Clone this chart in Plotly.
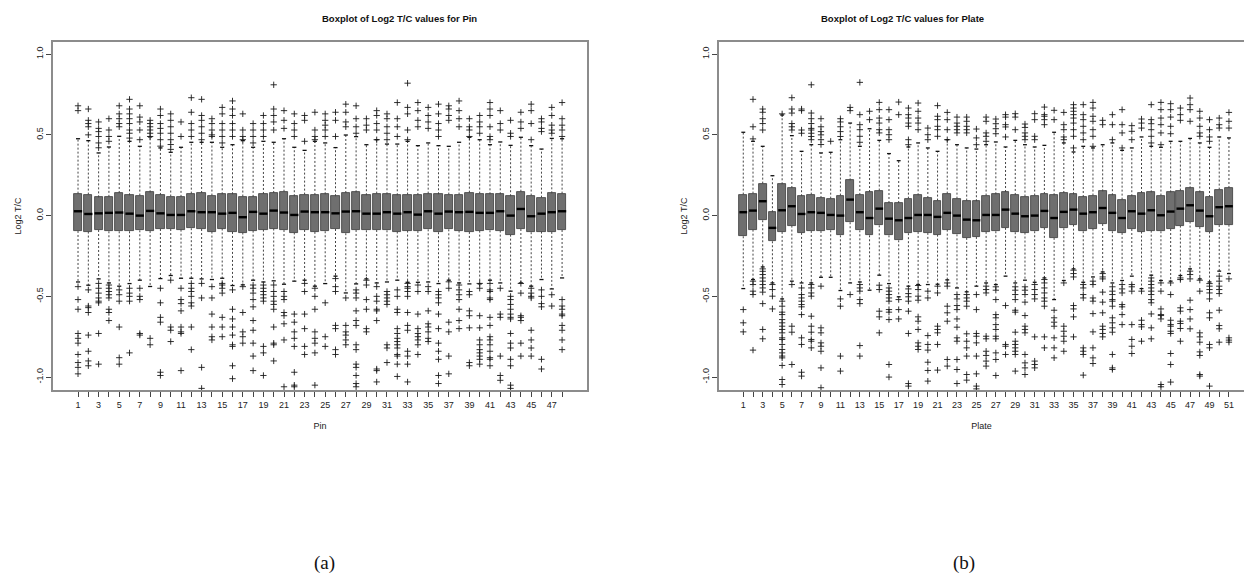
import plotly.graph_objects as go

# ---------------- data: Pin (48 boxes) ----------------
pin_ids = list(range(1, 49))
pin_q3 = [0.136, 0.130, 0.113, 0.116, 0.140, 0.126, 0.124, 0.144, 0.128, 0.118,
          0.116, 0.136, 0.140, 0.124, 0.132, 0.132, 0.118, 0.116, 0.134, 0.140,
          0.148, 0.120, 0.130, 0.128, 0.132, 0.120, 0.140, 0.144, 0.126, 0.136,
          0.132, 0.126, 0.130, 0.128, 0.136, 0.132, 0.130, 0.130, 0.142, 0.136,
          0.132, 0.132, 0.120, 0.148, 0.124, 0.111, 0.138, 0.136]
pin_q1 = [-0.095, -0.099, -0.089, -0.097, -0.097, -0.097, -0.091, -0.095, -0.083, -0.083,
          -0.087, -0.078, -0.083, -0.099, -0.080, -0.101, -0.105, -0.093, -0.087, -0.080,
          -0.089, -0.105, -0.089, -0.101, -0.097, -0.083, -0.109, -0.089, -0.091, -0.089,
          -0.091, -0.099, -0.093, -0.095, -0.085, -0.103, -0.085, -0.093, -0.101, -0.093,
          -0.091, -0.093, -0.118, -0.083, -0.103, -0.099, -0.101, -0.089]
pin_med = [0.027, 0.010, 0.014, 0.017, 0.019, 0.012, 0.000, 0.029, 0.014, 0.004,
           0.004, 0.027, 0.021, 0.021, 0.012, 0.017, -0.010, 0.023, 0.012, 0.031,
           0.019, 0.004, 0.025, 0.021, 0.021, 0.014, 0.025, 0.027, 0.012, 0.012,
           0.021, 0.012, 0.021, 0.006, 0.027, 0.012, 0.025, 0.021, 0.023, 0.017,
           0.017, 0.027, 0.000, 0.041, -0.004, 0.012, 0.021, 0.027]
pin_hi = [0.476, 0.464, 0.388, 0.425, 0.491, 0.460, 0.429, 0.487, 0.419, 0.392,
          0.423, 0.454, 0.454, 0.454, 0.423, 0.439, 0.464, 0.423, 0.460, 0.454,
          0.476, 0.423, 0.404, 0.460, 0.450, 0.421, 0.499, 0.489, 0.439, 0.470,
          0.443, 0.443, 0.460, 0.433, 0.450, 0.433, 0.429, 0.454, 0.485, 0.470,
          0.439, 0.456, 0.435, 0.485, 0.433, 0.412, 0.478, 0.476]
pin_lo = [-0.411, -0.431, -0.392, -0.417, -0.437, -0.421, -0.400, -0.439, -0.390, -0.371,
          -0.388, -0.388, -0.392, -0.396, -0.388, -0.433, -0.429, -0.400, -0.411, -0.404,
          -0.425, -0.406, -0.400, -0.437, -0.421, -0.375, -0.479, -0.423, -0.392, -0.417,
          -0.411, -0.400, -0.413, -0.413, -0.411, -0.421, -0.400, -0.417, -0.423, -0.423,
          -0.400, -0.417, -0.468, -0.417, -0.437, -0.396, -0.454, -0.386]
pin_out_hi = [
    [0.68, 0.65], [0.66, 0.59, 0.57, 0.55, 0.50], [0.58, 0.54, 0.52, 0.49, 0.45, 0.42],
    [0.60, 0.53, 0.49, 0.46], [0.68, 0.63, 0.60, 0.57, 0.55],
    [0.72, 0.66, 0.63, 0.60, 0.57, 0.53, 0.51, 0.48], [0.68, 0.61, 0.58, 0.53, 0.47],
    [0.59, 0.57, 0.55, 0.53, 0.51, 0.49], [0.66, 0.62, 0.57, 0.54, 0.51, 0.47, 0.43],
    [0.63, 0.59, 0.55, 0.51, 0.47, 0.44, 0.41], [0.58, 0.49], [0.73, 0.64, 0.57, 0.53, 0.49],
    [0.72, 0.62, 0.59, 0.55, 0.51, 0.47], [0.60, 0.57, 0.53, 0.50, 0.49],
    [0.67, 0.63, 0.57, 0.53, 0.49, 0.45], [0.71, 0.66, 0.62, 0.57, 0.53, 0.49],
    [0.63, 0.53, 0.49, 0.47], [0.57, 0.53, 0.49, 0.45], [0.62, 0.57, 0.53, 0.49],
    [0.81, 0.66, 0.62, 0.58, 0.53], [0.65, 0.59, 0.54], [0.63, 0.57, 0.53, 0.49],
    [0.62, 0.59, 0.46], [0.64, 0.53, 0.49, 0.47], [0.63, 0.59, 0.56, 0.53, 0.49],
    [0.64, 0.59, 0.49], [0.69, 0.64, 0.58, 0.55], [0.68, 0.60, 0.55, 0.51],
    [0.60, 0.56, 0.53], [0.65, 0.62, 0.57, 0.53, 0.47], [0.63, 0.60, 0.55, 0.51, 0.47],
    [0.70, 0.60, 0.55, 0.49], [0.82, 0.67, 0.63, 0.53, 0.47], [0.70, 0.65, 0.59, 0.55],
    [0.67, 0.62, 0.58, 0.54], [0.69, 0.63, 0.57, 0.53, 0.49], [0.68, 0.66, 0.62, 0.59],
    [0.71, 0.65, 0.60, 0.55], [0.60, 0.55, 0.53, 0.49], [0.62, 0.58, 0.55, 0.51],
    [0.70, 0.66, 0.62, 0.55, 0.49, 0.47], [0.65, 0.57, 0.53], [0.59, 0.51, 0.49],
    [0.64, 0.58, 0.54], [0.69, 0.65, 0.57, 0.47], [0.60, 0.58, 0.54, 0.52],
    [0.67, 0.62, 0.56, 0.53, 0.51], [0.70, 0.60, 0.56, 0.53, 0.49]]
pin_out_lo = [
    [-0.44, -0.52, -0.58, -0.73, -0.76, -0.79, -0.86, -0.91, -0.94, -0.98],
    [-0.46, -0.56, -0.57, -0.60, -0.74, -0.84, -0.90, -0.93],
    [-0.42, -0.45, -0.48, -0.51, -0.53, -0.54, -0.73, -0.92],
    [-0.43, -0.45, -0.47, -0.49, -0.51, -0.58, -0.60, -0.65],
    [-0.46, -0.49, -0.53, -0.69, -0.88, -0.92],
    [-0.45, -0.48, -0.50, -0.53, -0.85],
    [-0.45, -0.50, -0.52, -0.73, -0.74],
    [-0.76, -0.80],
    [-0.45, -0.54, -0.63, -0.66, -0.97, -0.99],
    [-0.40, -0.69, -0.71, -0.78],
    [-0.45, -0.52, -0.545, -0.59, -0.69, -0.72, -0.73, -0.96],
    [-0.42, -0.45, -0.47, -0.50, -0.54, -0.56, -0.69, -0.83],
    [-0.42, -0.51, -0.94, -1.07],
    [-0.44, -0.51, -0.61, -0.69, -0.75, -0.77],
    [-0.42, -0.43, -0.45, -0.48, -0.63, -0.69, -0.75],
    [-0.46, -0.58, -0.64, -0.69, -0.74, -0.80, -0.81, -0.93, -1.01],
    [-0.44, -0.60, -0.72, -0.75, -0.79],
    [-0.43, -0.45, -0.48, -0.52, -0.565, -0.65, -0.71, -0.79, -0.87, -0.96],
    [-0.43, -0.45, -0.47, -0.49, -0.51, -0.53, -0.81, -0.85, -0.99],
    [-0.43, -0.47, -0.50, -0.53, -0.55, -0.58, -0.69, -0.79, -0.80, -0.90],
    [-0.47, -0.50, -0.52, -0.60, -0.62, -0.67, -0.77, -1.06],
    [-0.61, -0.66, -0.72, -0.76, -0.81, -0.97, -1.05, -1.06],
    [-0.42, -0.47, -0.61, -0.70, -0.81, -0.86],
    [-0.45, -0.50, -0.58, -0.72, -0.76, -0.79, -0.85, -1.05],
    [-0.54, -0.75, -0.81],
    [-0.39, -0.44, -0.47, -0.68, -0.70, -0.83, -0.86],
    [-0.51, -0.68, -0.72, -0.74, -0.77, -0.80],
    [-0.46, -0.48, -0.51, -0.59, -0.65, -0.68, -0.80, -0.83, -0.92, -0.94, -0.99, -1.04, -1.06],
    [-0.40, -0.43, -0.52, -0.58, -0.70, -0.72],
    [-0.44, -0.50, -0.53, -0.58, -0.59, -0.65, -0.95, -0.96, -1.03],
    [-0.47, -0.49, -0.51, -0.53, -0.55, -0.80, -0.82, -0.91],
    [-0.46, -0.50, -0.58, -0.60, -0.70, -0.73, -0.76, -0.78, -0.80, -0.82, -0.86, -0.87, -0.92, -0.996],
    [-0.42, -0.44, -0.45, -0.47, -0.50, -0.60, -0.68, -0.71, -0.84, -0.87, -0.92, -1.03],
    [-0.43, -0.47, -0.61, -0.70, -0.73, -0.75, -0.77, -0.80, -0.86],
    [-0.44, -0.47, -0.59, -0.67, -0.69, -0.72, -0.76, -0.78],
    [-0.47, -0.49, -0.51, -0.54, -0.61, -0.70, -0.79, -0.84, -0.89, -0.99, -1.04],
    [-0.41, -0.45, -0.66, -0.72, -0.87, -0.98],
    [-0.43, -0.46, -0.49, -0.52, -0.58, -0.65, -0.70],
    [-0.47, -0.49, -0.59, -0.62, -0.695, -0.91, -0.93],
    [-0.42, -0.45, -0.62, -0.695, -0.77, -0.80, -0.83, -0.85, -0.87, -0.89, -0.92],
    [-0.42, -0.46, -0.47, -0.51, -0.52, -0.63, -0.68, -0.75, -0.77, -0.80, -0.84, -0.88, -0.89, -0.93],
    [-0.45, -0.61, -0.63, -0.87, -0.99, -1.02],
    [-0.50, -0.52, -0.55, -0.58, -0.61, -0.63, -0.64, -0.73, -0.79, -0.82, -0.89, -0.93, -1.05, -1.07],
    [-0.42, -0.48, -0.62, -0.63, -0.65, -0.79, -0.87],
    [-0.45, -0.48, -0.50, -0.51, -0.71, -0.77, -0.82, -0.87],
    [-0.46, -0.50, -0.545, -0.565, -0.89, -0.95],
    [-0.49, -0.56],
    [-0.52, -0.56, -0.58, -0.61, -0.62, -0.68, -0.71, -0.77, -0.83]]

# ---------------- data: Plate (51 boxes) ----------------
plate_ids = list(range(1, 52))
plate_q3 = [0.130, 0.136, 0.198, 0.021, 0.194, 0.171, 0.120, 0.130, 0.109, 0.105,
            0.124, 0.218, 0.128, 0.146, 0.155, 0.078, 0.078, 0.105, 0.126, 0.109,
            0.093, 0.136, 0.105, 0.093, 0.089, 0.124, 0.132, 0.146, 0.128, 0.118,
            0.124, 0.134, 0.126, 0.140, 0.132, 0.115, 0.124, 0.150, 0.126, 0.099,
            0.120, 0.140, 0.144, 0.124, 0.144, 0.155, 0.169, 0.144, 0.115, 0.161, 0.171]
plate_q1 = [-0.128, -0.087, -0.029, -0.159, -0.101, -0.062, -0.107, -0.095, -0.095, -0.091,
            -0.122, -0.041, -0.091, -0.122, -0.060, -0.122, -0.153, -0.109, -0.101, -0.107,
            -0.118, -0.087, -0.116, -0.138, -0.132, -0.101, -0.097, -0.076, -0.103, -0.105,
            -0.097, -0.076, -0.138, -0.078, -0.056, -0.097, -0.080, -0.052, -0.097, -0.107,
            -0.083, -0.099, -0.093, -0.097, -0.083, -0.062, -0.037, -0.070, -0.099, -0.058, -0.056]
plate_med = [0.021, 0.031, 0.089, -0.076, 0.033, 0.058, 0.010, 0.021, 0.017, 0.004,
             0.000, 0.099, 0.021, -0.015, 0.043, -0.019, -0.029, -0.015, 0.004, 0.004,
             -0.008, 0.017, 0.000, -0.025, -0.029, 0.004, 0.004, 0.037, 0.012, -0.004,
             0.000, 0.029, -0.015, 0.023, 0.037, 0.012, 0.021, 0.047, 0.017, -0.015,
             0.027, 0.012, 0.033, 0.002, 0.025, 0.043, 0.064, 0.031, -0.004, 0.052, 0.058]
plate_hi = [0.516, 0.460, 0.429, 0.247, 0.623, 0.495, 0.398, 0.439, 0.388, 0.392,
            0.470, 0.573, 0.429, 0.538, 0.466, 0.384, 0.340, 0.425, 0.450, 0.419,
            0.398, 0.470, 0.439, 0.419, 0.412, 0.439, 0.456, 0.425, 0.466, 0.439,
            0.425, 0.435, 0.516, 0.450, 0.394, 0.429, 0.419, 0.439, 0.450, 0.404,
            0.419, 0.487, 0.429, 0.423, 0.460, 0.460, 0.478, 0.450, 0.423, 0.487, 0.481]
plate_lo = [-0.452, -0.396, -0.318, -0.417, -0.516, -0.406, -0.417, -0.417, -0.382, -0.382,
            -0.464, -0.417, -0.411, -0.462, -0.369, -0.421, -0.503, -0.437, -0.427, -0.427,
            -0.425, -0.398, -0.448, -0.472, -0.437, -0.417, -0.427, -0.375, -0.417, -0.400,
            -0.413, -0.386, -0.520, -0.402, -0.330, -0.413, -0.380, -0.349, -0.417, -0.402,
            -0.375, -0.452, -0.369, -0.402, -0.406, -0.371, -0.330, -0.392, -0.411, -0.344, -0.359]
plate_out_hi = [
    [], [0.72, 0.55, 0.475], [0.66, 0.64, 0.60, 0.57, 0.53], [], [0.63],
    [0.73, 0.66, 0.635, 0.57, 0.55, 0.53], [0.66, 0.65, 0.53, 0.51],
    [0.81, 0.635, 0.60, 0.57, 0.54, 0.53, 0.51, 0.49, 0.47],
    [0.60, 0.55, 0.52, 0.50, 0.47, 0.44], [0.46], [0.60, 0.58, 0.55, 0.52, 0.49],
    [0.67, 0.65], [0.825, 0.625, 0.563, 0.532, 0.491, 0.454], [0.646, 0.594],
    [0.701, 0.656, 0.604, 0.573, 0.532, 0.512], [0.656, 0.594, 0.532, 0.501, 0.470],
    [0.703, 0.625], [0.666, 0.625, 0.604, 0.573, 0.553, 0.470, 0.439],
    [0.697, 0.646, 0.604, 0.573, 0.532], [0.542, 0.501, 0.470],
    [0.681, 0.615, 0.594, 0.553, 0.532, 0.491], [0.639, 0.594, 0.532, 0.470],
    [0.610, 0.573, 0.553, 0.532, 0.512], [0.610, 0.584, 0.553, 0.532, 0.512],
    [0.536, 0.481, 0.439], [0.610, 0.584, 0.512, 0.491, 0.460],
    [0.598, 0.569, 0.538, 0.507], [0.625, 0.610, 0.563, 0.549, 0.487],
    [0.631, 0.610, 0.532], [0.567, 0.546, 0.512, 0.491, 0.470],
    [0.631, 0.594, 0.491, 0.470], [0.672, 0.625, 0.615, 0.594, 0.563],
    [0.652, 0.594], [0.639, 0.563, 0.532, 0.487, 0.470],
    [0.687, 0.666, 0.646, 0.625, 0.604, 0.573, 0.532, 0.491, 0.419],
    [0.687, 0.625, 0.594, 0.553, 0.512, 0.470],
    [0.701, 0.666, 0.615, 0.584, 0.532, 0.491, 0.429], [0.590, 0.563],
    [0.625, 0.563, 0.470], [0.656, 0.563, 0.512, 0.419], [0.557, 0.522, 0.470],
    [0.598, 0.573, 0.542], [0.687, 0.594, 0.569, 0.532, 0.491, 0.450],
    [0.701, 0.656, 0.604, 0.563, 0.512, 0.439], [0.693, 0.656, 0.610, 0.553, 0.507],
    [0.666, 0.625, 0.590], [0.728, 0.687, 0.656, 0.584],
    [0.646, 0.604, 0.553, 0.512, 0.491], [0.594, 0.532, 0.487, 0.460],
    [0.604, 0.563, 0.542], [0.639, 0.584, 0.542]]
plate_out_lo = [
    [-0.582, -0.664, -0.720],
    [-0.406, -0.427, -0.468, -0.489, -0.833],
    [-0.33, -0.345, -0.365, -0.386, -0.406, -0.427, -0.448, -0.474, -0.545, -0.705, -0.763],
    [-0.427, -0.458, -0.499, -0.578],
    [-0.530, -0.561, -0.598, -0.613, -0.644, -0.664, -0.685, -0.705, -0.726, -0.757, -0.767,
     -0.798, -0.829, -0.850, -0.870, -0.881, -0.928, -1.015, -1.046],
    [-0.427, -0.685, -0.722, -0.922],
    [-0.448, -0.489, -0.510, -0.530, -0.551, -0.565, -0.613, -0.757, -0.798, -0.970, -0.994],
    [-0.427, -0.448, -0.479, -0.499, -0.623, -0.685, -0.722, -0.767, -0.778, -0.819],
    [-0.437, -0.695, -0.726, -0.788, -0.809, -0.840, -0.943, -1.066],
    [],
    [-0.516, -0.561, -0.870, -0.963],
    [-0.489],
    [-0.427, -0.448, -0.468, -0.520, -0.545, -0.805, -0.870],
    [],
    [-0.431, -0.458, -0.592, -0.627, -0.726],
    [-0.448, -0.468, -0.489, -0.510, -0.530, -0.582, -0.598, -0.644, -0.922, -1.000],
    [-0.520, -0.582, -0.640],
    [-0.454, -0.483, -0.503, -0.530, -0.592, -0.730, -1.040, -1.056],
    [-0.433, -0.458, -0.499, -0.524, -0.627, -0.654, -0.705, -0.788, -0.809, -0.829],
    [-0.468, -0.510, -0.743, -0.798, -0.833, -0.908, -0.959, -1.025],
    [-0.437, -0.479, -0.685, -0.705, -0.726, -0.798, -0.957],
    [-0.417, -0.437, -0.561, -0.602, -0.654, -0.891, -0.932],
    [-0.489, -0.516, -0.557, -0.582, -0.640, -0.691, -0.757, -0.778, -0.891, -0.953, -1.040],
    [-0.489, -0.510, -0.530, -0.561, -0.732, -0.778, -0.819, -0.870, -0.984, -1.019],
    [-0.489, -0.582, -0.730, -0.747, -0.788, -0.870, -0.980, -1.056, -1.073],
    [-0.437, -0.458, -0.479, -0.747, -0.763, -0.840, -0.866, -0.901, -0.932],
    [-0.441, -0.462, -0.520, -0.613, -0.633, -0.675, -0.705, -0.747, -0.763, -0.850, -0.891, -0.990],
    [-0.557, -0.798, -0.809, -0.860],
    [-0.441, -0.462, -0.489, -0.520, -0.586, -0.598, -0.722, -0.778, -0.798, -0.819, -0.840, -0.860, -0.963],
    [-0.441, -0.462, -0.489, -0.536, -0.619, -0.685, -0.705, -0.726, -0.860, -0.912, -0.943, -0.984],
    [-0.427, -0.458, -0.489, -0.516, -0.751, -0.901, -0.922, -0.943],
    [-0.396, -0.417, -0.448, -0.479, -0.510, -0.530, -0.561, -0.751, -0.819],
    [-0.586, -0.633, -0.660, -0.685, -0.757, -0.819, -0.881],
    [-0.417, -0.685, -0.716, -0.747, -0.778, -0.840],
    [-0.338, -0.359, -0.380, -0.557, -0.578, -0.627, -0.751],
    [-0.427, -0.448, -0.489, -0.510, -0.819, -0.840, -0.860, -0.988],
    [-0.406, -0.427, -0.510, -0.530, -0.607, -0.720, -0.819, -0.881, -0.916],
    [-0.359, -0.380, -0.392, -0.474, -0.536, -0.602, -0.685, -0.705, -0.730, -0.751],
    [-0.441, -0.468, -0.489, -0.520, -0.530, -0.561, -0.633, -0.664, -0.695, -0.722, -0.860, -0.943, -0.953],
    [-0.427, -0.454, -0.479, -0.551, -0.565, -0.613, -0.675],
    [-0.427, -0.441, -0.468, -0.675, -0.767, -0.809, -0.854],
    [-0.468, -0.648, -0.675, -0.689, -0.778],
    [-0.386, -0.406, -0.427, -0.448, -0.468, -0.489, -0.520, -0.540, -0.609, -0.695, -0.763],
    [-0.417, -0.468, -0.578, -0.613, -0.619, -0.640, -1.046, -1.060],
    [-0.417, -0.489, -0.648, -0.675, -0.685, -0.716, -0.730, -0.854, -0.922, -1.031],
    [-0.386, -0.396, -0.571, -0.592, -0.654, -0.668, -0.699, -0.778],
    [-0.344, -0.365, -0.392, -0.524, -0.582, -0.640, -0.701],
    [-0.400, -0.468, -0.726, -0.751, -0.784, -0.844, -0.866, -0.984, -0.994],
    [-0.421, -0.437, -0.458, -0.479, -0.516, -0.602, -0.633, -0.798, -0.819, -1.056],
    [-0.375, -0.406, -0.437, -0.458, -0.483, -0.586, -0.681, -0.701, -0.784],
    [-0.392, -0.757, -0.771, -0.784]]

y_ticks = [-1.0, -0.5, 0.0, 0.5, 1.0]
y_tick_text = ["-1.0", "-0.5", "0.0", "0.5", "1.0"]

# ---------------- styles ----------------
BOX_W = 0.8
STAPLE_W = 0.4
BOX_FILL = "#6f6f6f"
FONT = "Liberation Sans"

fig = go.Figure()


def add_panel(ids, q1, med, q3, lo, hi, out_hi, out_lo, xa, ya):
    fig.add_trace(go.Bar(
        x=ids, y=[b - a for a, b in zip(q1, q3)], base=q1, width=BOX_W,
        marker=dict(color=BOX_FILL, line=dict(color="#3a3a3a", width=0.8)),
        xaxis=xa, yaxis=ya, showlegend=False, hoverinfo="skip"))
    wx, wy = [], []
    for i, a, b, l, h in zip(ids, q1, q3, lo, hi):
        wx += [i, i, None, i, i, None]
        wy += [b, h, None, a, l, None]
    fig.add_trace(go.Scatter(x=wx, y=wy, mode="lines",
                             line=dict(color="#444444", width=1, dash="2px,2px"),
                             xaxis=xa, yaxis=ya, showlegend=False, hoverinfo="skip"))
    sx, sy = [], []
    for i, l, h in zip(ids, lo, hi):
        sx += [i - STAPLE_W / 2, i + STAPLE_W / 2, None, i - STAPLE_W / 2, i + STAPLE_W / 2, None]
        sy += [h, h, None, l, l, None]
    fig.add_trace(go.Scatter(x=sx, y=sy, mode="lines",
                             line=dict(color="#111111", width=1.3),
                             xaxis=xa, yaxis=ya, showlegend=False, hoverinfo="skip"))
    mx, my = [], []
    for i, m in zip(ids, med):
        mx += [i - BOX_W / 2, i + BOX_W / 2, None]
        my += [m, m, None]
    fig.add_trace(go.Scatter(x=mx, y=my, mode="lines",
                             line=dict(color="#000000", width=2.4),
                             xaxis=xa, yaxis=ya, showlegend=False, hoverinfo="skip"))
    ox, oy = [], []
    for i, uh, ul in zip(ids, out_hi, out_lo):
        for v in uh + ul:
            ox.append(i)
            oy.append(v)
    fig.add_trace(go.Scatter(x=ox, y=oy, mode="markers",
                             marker=dict(symbol="cross-thin", size=4.5,
                                         line=dict(color="#1a1a1a", width=0.9)),
                             xaxis=xa, yaxis=ya, showlegend=False, hoverinfo="skip"))


add_panel(pin_ids, pin_q1, pin_med, pin_q3, pin_lo, pin_hi, pin_out_hi, pin_out_lo, "x", "y")
add_panel(plate_ids, plate_q1, plate_med, plate_q3, plate_lo, plate_hi, plate_out_hi, plate_out_lo, "x2", "y2")

W, H = 1244, 578
ydom = [1 - 390 / H, 1 - 42 / H]
frame = "#8c8c8c"
tickfont = dict(family=FONT, size=9, color="#222222")


def xaxis(dom, ids, rng, title, mirror):
    return dict(domain=dom, range=rng, tickmode="array", tickvals=ids,
                ticktext=[str(i) if i % 2 == 1 else "" for i in ids],
                ticks="outside", ticklen=5, tickcolor="#444444", tickwidth=1,
                showline=True, linecolor=frame, linewidth=1.5, mirror=mirror,
                showgrid=False, zeroline=False, tickfont=tickfont,
                title=dict(text=title, font=dict(family=FONT, size=9, color="#222222"), standoff=14))


def yaxis(anchor, mirror):
    return dict(domain=ydom, range=[-1.08, 1.075], anchor=anchor, tickmode="array",
                tickvals=y_ticks, ticktext=y_tick_text, tickangle=-90,
                ticks="outside", ticklen=5, tickcolor="#444444", tickwidth=1,
                showline=True, linecolor=frame, linewidth=1.5, mirror=mirror,
                showgrid=False, zeroline=False, tickfont=tickfont,
                title=dict(text="Log2 T/C", font=dict(family=FONT, size=9, color="#222222"), standoff=12))


fig.update_layout(
    width=W, height=H, margin=dict(l=0, r=0, t=0, b=0),
    paper_bgcolor="white", plot_bgcolor="white", bargap=0, barmode="overlay",
    xaxis=dict(**xaxis([53 / W, 587 / W], pin_ids, [-1.43, 50.42], "Pin", True), anchor="y"),
    yaxis=yaxis("x", True),
    xaxis2=dict(**xaxis([719 / W, 1.0], plate_ids, [-1.5, 52.55], "Plate", True), anchor="y2"),
    yaxis2=yaxis("x2", False),
    annotations=[
        dict(text="<b>Boxplot of Log2 T/C values for Pin</b>", x=320 / W, y=1 - 19 / H,
             xref="paper", yref="paper", showarrow=False, yanchor="middle",
             font=dict(family=FONT, size=9.5, color="#111111")),
        dict(text="<b>Boxplot of Log2 T/C values for Plate</b>", x=986 / W, y=1 - 19 / H,
             xref="paper", yref="paper", showarrow=False, yanchor="middle",
             font=dict(family=FONT, size=9.5, color="#111111")),
        dict(text="(a)", x=312 / W, y=1 - 563 / H, xref="paper", yref="paper", showarrow=False,
             yanchor="middle", font=dict(family="Liberation Serif", size=19, color="#111111")),
        dict(text="(b)", x=977 / W, y=1 - 563 / H, xref="paper", yref="paper", showarrow=False,
             yanchor="middle", font=dict(family="Liberation Serif", size=19, color="#111111")),
    ],
)

fig.write_html("out.html", config={"displayModeBar": False},
               post_script="document.body.style.margin='0';document.body.style.overflow='hidden';")
